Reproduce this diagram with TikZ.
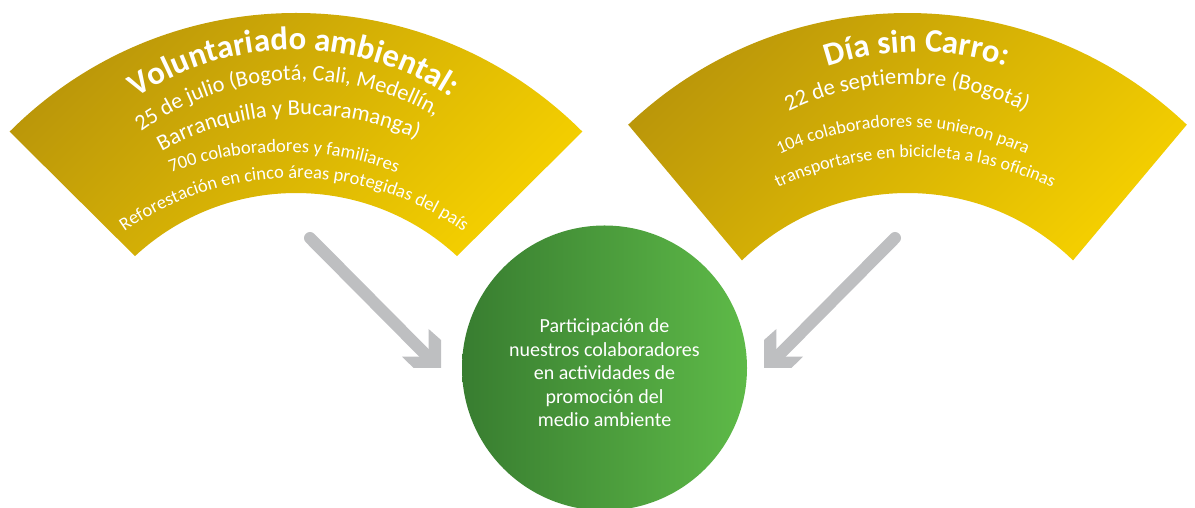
\documentclass[tikz,border=0pt]{standalone}
\usepackage{fontspec}
\setmainfont{Carlito}
\usetikzlibrary{decorations.text}

\definecolor{fandark}{RGB}{184,148,10}
\definecolor{fanlight}{RGB}{243,206,0}
\definecolor{leafdark}{RGB}{56,125,48}
\definecolor{leaflight}{RGB}{94,186,72}
\definecolor{arrowgray}{RGB}{190,191,193}

\newcommand{\fanhead}[1]{\color{white}\bfseries\fontsize{#1}{#1}\selectfont}
\newcommand{\fanbody}[1]{\color{white}\fontsize{#1}{#1}\selectfont}

\tikzset{
  fan/.style={top color=fandark, bottom color=fanlight, shading angle=45},
  curved/.style={decorate, decoration={text along path, text align=center, text={#1}}},
  goal/.style={circle, left color=leafdark, right color=leaflight, minimum size=285pt, inner sep=0pt},
  goaltext/.style={text=white, align=center, font=\fontsize{20}{23.5}\selectfont},
  shaft/.style={draw=arrowgray, line width=12pt, line cap=round},
}

\begin{document}
\begin{tikzpicture}[x=1pt, y=1pt]
  \useasboundingbox (0,0) rectangle (1195,508);

  % the two fans
  \shade[fan] ([shift={(135:405)}]296,90) arc[start angle=135, end angle=45, radius=405]
    -- ([shift={(47.2:237)}]296,78) arc[start angle=47.2, end angle=132.8, radius=237] -- cycle;
  \shade[fan] ([shift={(133.6:405)}]907.5,90) arc[start angle=133.6, end angle=46.4, radius=405]
    -- ([shift={(45.7:237)}]907.5,78) arc[start angle=45.7, end angle=134.3, radius=237] -- cycle;

  % left fan text
  \path[curved={|\fanhead{32.8}|Voluntariado ambiental:}]
    ([shift={(140:285)}]294,173) arc[start angle=140, end angle=40, radius=285];
  \path[curved={|\fanbody{22.4}|25 de julio (Bogotá, Cali, Medellín,}]
    ([shift={(143:270)}]300,158) arc[start angle=143, end angle=43, radius=270];
  \path[curved={|\fanbody{22.6}|Barranquilla y Bucaramanga)}]
    ([shift={(142.8:290)}]302,103) arc[start angle=142.8, end angle=42.8, radius=290];
  \path[curved={|\fanbody{18.5}|700 colaboradores y familiares}]
    ([shift={(140:320)}]284,36) arc[start angle=140, end angle=40, radius=320];
  \path[curved={|\fanbody{18.5}|Reforestación en cinco áreas protegidas del país}]
    ([shift={(140:295)}]294,35) arc[start angle=140, end angle=40, radius=295];

  % right fan text
  \path[curved={|\fanhead{32.8}|Día sin Carro:}]
    ([shift={(140:280)}]917,176) arc[start angle=140, end angle=40, radius=280];
  \path[curved={|\fanbody{22.6}|22 de septiembre (Bogotá)}]
    ([shift={(140:270)}]907,154) arc[start angle=140, end angle=40, radius=270];
  \path[curved={|\fanbody{18}|104 colaboradores se unieron para}]
    ([shift={(140:290)}]903,91) arc[start angle=140, end angle=40, radius=290];
  \path[curved={|\fanbody{18}|transportarse en bicicleta a las oficinas}]
    ([shift={(140:320)}]915,31) arc[start angle=140, end angle=40, radius=320];

  \node[goal] (goal) at (604.5,140) {};
  \node[goaltext] (goaltext) at ([yshift=-5pt]goal.center) {Participación de\\nuestros colaboradores\\en actividades de\\promoción del\\medio ambiente};

  % arrows
  \coordinate (volStart) at (310,270);
  \coordinate (volEnd) at (433,146);
  \coordinate (carStart) at (895,270);
  \coordinate (carEnd) at (772,146);
  \draw[shaft] (volStart) -- (volEnd);
  \draw[shaft] (carStart) -- (carEnd);
  \fill[arrowgray] (441,140) -- ++(0,28) -- ++(-12.4,11) -- ++(0,-27.7) -- ++(-26.6,0) -- ++(11.6,-11.3) -- cycle;
  \fill[arrowgray] (764,140) -- ++(0,28) -- ++(12.4,11) -- ++(0,-27.7) -- ++(26.6,0) -- ++(-11.6,-11.3) -- cycle;

\end{tikzpicture}
\end{document}
